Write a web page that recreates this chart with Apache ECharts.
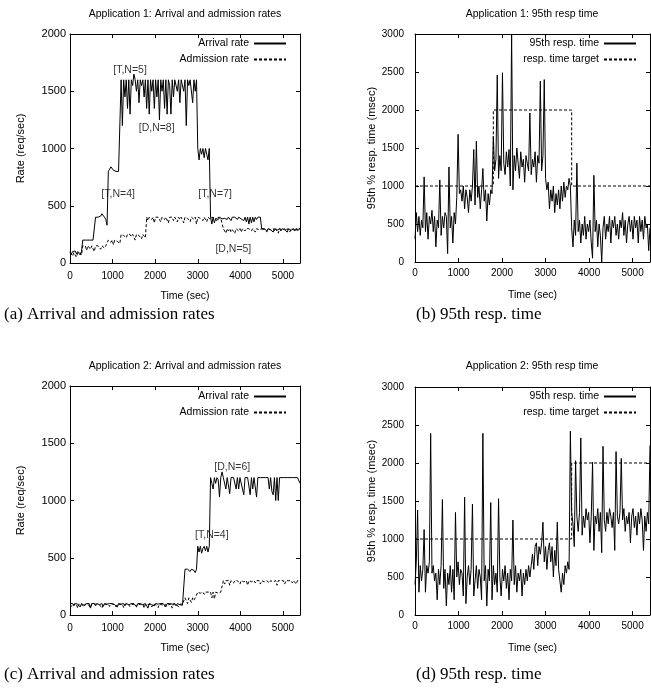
<!DOCTYPE html>
<html>
<head>
<meta charset="utf-8">
<script src="https://cdn.jsdelivr.net/npm/echarts@6/dist/echarts.min.js"></script>
<style>
  html, body { margin: 0; background: #fff; }
  #chart { width: 651px; height: 693px; }
</style>
</head>
<body>
<div id="chart"></div>
<script>
// every series is sampled once per STEP seconds, starting at t = 0
const STEP = 30;
const TIME_MAX = 5400;

// Application 1: arrival / admission rate (req/sec)
const arrivalA = [
  100, 75, 100, 90, 105, 80, 100, 95, 70, 100,
  200, 215, 200, 210, 200, 195, 200, 210, 200, 200,
  400, 390, 400, 395, 410, 430, 420, 400, 380, 330,
  800, 820, 840, 830, 810, 800, 800, 795, 800, 800,
  1600, 1200, 1600, 1450, 1600, 1350, 1600, 1300, 1600, 1550,
  1650, 1600, 1500, 1600, 1400, 1600, 1550, 1600, 1450, 1600,
  1350, 1600, 1300, 1600, 1500, 1600, 1350, 1600, 1450, 1600,
  1250, 1600, 1500, 1600, 1350, 1600, 1300, 1600, 1550, 1300,
  1600, 1450, 1600, 1600, 1500, 1600, 1400, 1600, 1600, 1500,
  1600, 1200, 1600, 1550, 1600, 1600, 1400, 1600, 1500, 1600,
  1000, 900, 1000, 950, 1000, 920, 1000, 950, 900, 1000,
  400, 340, 400, 350, 390, 400, 380, 400, 400, 385,
  400, 390, 400, 380, 400, 400, 370, 400, 390, 400,
  400, 380, 400, 400, 385, 400, 370, 400, 360, 400,
  340, 400, 350, 400, 360, 400, 380, 400, 390, 400,
  300, 290, 300, 300, 280, 300, 300, 290, 300, 270,
  300, 300, 285, 300, 300, 280, 300, 300, 290, 300,
  270, 300, 300, 285, 300, 300, 280, 300, 300, 290,
  300
];
const admissionA = [
  90, 85, 60, 90, 95, 50, 90, 85, 90, 70,
  150, 140, 150, 110, 150, 145, 120, 150, 150, 100,
  150, 140, 150, 150, 120, 150, 150, 130, 150, 150,
  200, 200, 180, 200, 160, 200, 200, 190, 200, 170,
  250, 250, 240, 250, 220, 250, 250, 250, 230, 250,
  250, 200, 250, 250, 240, 250, 210, 250, 250, 220,
  400, 370, 400, 400, 380, 400, 350, 400, 390, 400,
  400, 360, 400, 400, 380, 400, 400, 350, 400, 390,
  400, 370, 400, 400, 360, 400, 380, 400, 400, 350,
  400, 400, 390, 400, 360, 400, 400, 380, 400, 340,
  400, 400, 390, 400, 370, 400, 400, 360, 400, 400,
  380, 400, 400, 390, 400, 370, 400, 400, 390, 400,
  300, 290, 260, 300, 280, 300, 270, 290, 300, 260,
  300, 290, 280, 300, 270, 300, 300, 280, 300, 290,
  300, 300, 280, 300, 300, 270, 300, 300, 290, 300,
  300, 280, 300, 300, 270, 300, 300, 290, 300, 300,
  280, 300, 300, 260, 300, 300, 290, 300, 300, 280,
  300, 300, 270, 300, 300, 290, 300, 300, 280, 300,
  300
];

// Application 1: 95th percentile response time (msec)
const respA = [
  300, 650, 400, 600, 350, 550, 450, 1120, 400, 650,
  300, 600, 500, 680, 400, 600, 200, 550, 450, 1080,
  350, 600, 450, 650, 600, 110, 1250, 450, 600, 250,
  650, 500, 850, 1680, 900, 950, 800, 1000, 700, 950,
  850, 650, 950, 800, 1000, 1480, 750, 1590, 850, 1000,
  700, 950, 1230, 800, 950, 540, 900, 750, 950, 900,
  1650, 1200, 1350, 2460, 1100, 1400, 1200, 2490, 1300, 1150,
  1450, 1250, 1480, 1000, 3000, 950, 1400, 1200, 1500, 1300,
  1100, 1450, 1250, 1350, 1050, 1400, 1300, 1200, 1960, 1150,
  1350, 1250, 1450, 1050, 1400, 1300, 2380, 1200, 1400, 2400,
  1100, 950, 1050, 700, 950, 800, 1000, 650, 900, 750,
  950, 700, 1000, 800, 1050, 850, 1000, 950, 1100, 1000,
  450, 200, 550, 350, 1300, 400, 550, 250, 500, 350,
  600, 300, 500, 400, 550, 250, 50, 1140, 400, 550,
  200, 500, 350, 0, 450, 600, 300, 500, 400, 600,
  250, 550, 450, 600, 350, 500, 300, 550, 450, 650,
  350, 550, 250, 500, 600, 400, 550, 300, 600, 450,
  550, 250, 600, 400, 550, 300, 600, 450, 500, 150,
  450
];
const targetTimesA = [0, 1800, 1800, 3600, 3600, 5400];
const targetValsA = [1000, 1000, 2000, 2000, 1000, 1000];

// Application 2: arrival / admission rate (req/sec)
const arrivalB = [
  100, 90, 100, 80, 100, 100, 95, 100, 70, 100,
  100, 85, 100, 100, 90, 100, 60, 100, 95, 100,
  80, 100, 100, 90, 100, 100, 75, 100, 100, 95,
  100, 100, 85, 100, 100, 90, 100, 70, 100, 100,
  95, 100, 100, 80, 100, 100, 90, 100, 100, 85,
  100, 100, 75, 100, 95, 100, 100, 90, 100, 100,
  100, 60, 100, 100, 90, 100, 80, 100, 100, 95,
  100, 100, 85, 100, 100, 70, 100, 90, 100, 100,
  95, 100, 100, 80, 100, 100, 90, 100, 85, 100,
  400, 390, 400, 400, 380, 400, 400, 390, 370, 400,
  600, 550, 600, 540, 580, 600, 560, 600, 550, 600,
  1200, 1150, 1100, 1200, 1150, 1200, 1180, 1030, 1200, 1250,
  1200, 1200, 1100, 1200, 1200, 1060, 1200, 1200, 1200, 1200,
  1100, 1200, 1100, 1200, 1200, 1100, 1050, 1200, 1200, 1200,
  1200, 1050, 1200, 1100, 1200, 1200, 1030, 1200, 1200, 1200,
  1200, 1200, 1200, 1200, 1200, 1200, 1100, 1200, 1080, 1050,
  1200, 1000, 1200, 1000, 1200, 1200, 1200, 1200, 1200, 1200,
  1200, 1200, 1200, 1200, 1200, 1200, 1200, 1200, 1200, 1200,
  1150
];
const admissionB = [
  90, 95, 70, 95, 90, 95, 60, 95, 90, 95,
  95, 70, 95, 90, 95, 95, 65, 95, 90, 95,
  80, 95, 95, 90, 95, 60, 95, 95, 90, 95,
  95, 75, 95, 90, 95, 95, 70, 95, 95, 90,
  95, 95, 65, 95, 90, 95, 95, 75, 95, 95,
  90, 95, 70, 95, 95, 90, 95, 95, 60, 95,
  95, 90, 95, 95, 70, 95, 95, 90, 95, 65,
  95, 95, 90, 95, 75, 95, 95, 90, 95, 95,
  60, 95, 90, 95, 95, 70, 95, 90, 95, 95,
  150, 140, 100, 150, 150, 110, 150, 130, 150, 150,
  200, 200, 190, 200, 200, 180, 200, 200, 200, 190,
  200, 150, 200, 140, 200, 200, 190, 200, 200, 200,
  300, 270, 300, 290, 300, 260, 300, 300, 280, 300,
  290, 300, 300, 270, 300, 300, 290, 300, 300, 260,
  300, 300, 290, 300, 300, 280, 300, 300, 300, 270,
  300, 300, 290, 300, 300, 300, 280, 300, 300, 290,
  300, 300, 260, 300, 300, 300, 290, 300, 270, 300,
  300, 300, 290, 300, 280, 300, 300, 270, 300, 300,
  300
];

// Application 2: 95th percentile response time (msec)
const respB = [
  400, 700, 1380, 300, 650, 450, 600, 1125, 300, 650,
  550, 700, 2390, 550, 650, 450, 550, 200, 600, 400,
  650, 1520, 350, 600, 120, 550, 400, 650, 300, 600,
  200, 1350, 500, 700, 400, 600, 550, 250, 1550, 150,
  500, 650, 400, 600, 1460, 250, 450, 650, 350, 600,
  500, 200, 2390, 450, 650, 120, 600, 450, 1480, 200,
  650, 400, 550, 300, 1530, 500, 250, 600, 450, 650,
  350, 550, 200, 600, 450, 1250, 400, 650, 300, 550,
  450, 600, 250, 550, 400, 600, 450, 650, 500, 650,
  800, 600, 900, 950, 650, 900, 800, 950, 1220, 700,
  900, 600, 850, 950, 700, 900, 500, 850, 650, 1220,
  600, 450, 300, 550, 400, 650, 550, 700, 600, 2420,
  1350, 1200, 900, 2030, 1300, 1100, 1350, 2330, 1050, 1300,
  1150, 1400, 1250, 1350, 950, 1300, 2010, 850, 1300, 1200,
  1400, 1100, 1350, 820, 2220, 1250, 1100, 1350, 1200, 1400,
  1300, 1150, 1350, 850, 2150, 1300, 1200, 1350, 2060, 1250,
  1400, 1100, 1300, 1200, 1350, 950, 1300, 1400, 1150, 1300,
  1050, 1350, 1200, 1400, 1250, 850, 1300, 1100, 1350, 1200,
  2230
];
const targetTimesB = [0, 3600, 3600, 5400];
const targetValsB = [1000, 1000, 2000, 2000];

// in-plot labels: text, time, rate
const notesA = [
  ['[T,N=5]', 1410, 1685],
  ['[D,N=8]', 2035, 1180],
  ['[T,N=4]', 1130, 600],
  ['[T,N=7]', 3405, 600],
  ['[D,N=5]', 3835, 120]
];
const notesB = [
  ['[D,N=6]', 3810, 1290],
  ['[T,N=4]', 3330, 700]
];

const FONT = 'Liberation Sans';
const SERIF = 'Liberation Serif';

const toPairs = vals => vals.map((v, i) => [i * STEP, v]);
const zip = (xs, ys) => xs.map((x, i) => [x, ys[i]]);

const myChart = echarts.init(document.getElementById('chart'), null, { renderer: 'canvas' });

// four panels: a, b (top), c, d (bottom)
const grids = [
  { left: 70, top: 34, width: 230, height: 229 },
  { left: 415, top: 34, width: 235, height: 228 },
  { left: 70, top: 386, width: 230, height: 229 },
  { left: 415, top: 387, width: 235, height: 228 }
];
const yMax = [2000, 3000, 2000, 3000];
const yNames = ['Rate (req/sec)', '95th % resp. time (msec)', 'Rate (req/sec)', '95th % resp. time (msec)'];

const lineAxis = { lineStyle: { color: '#000', width: 1 }, onZero: false };
const tick = { inside: true, length: 4, lineStyle: { color: '#000' } };
const plain = v => String(v);

const xAxes = [];
const yAxes = [];
grids.forEach((g, i) => {
  const rt = i % 2 === 1;
  xAxes.push({
    type: 'value', gridIndex: i, min: 0, max: TIME_MAX, interval: 1000,
    axisLine: lineAxis, axisTick: tick, splitLine: { show: false },
    axisLabel: { color: '#000', fontSize: 10, margin: rt ? 6 : 8, showMaxLabel: false, fontFamily: FONT, formatter: plain },
    name: 'Time (sec)', nameLocation: 'middle', nameGap: 28,
    nameTextStyle: { color: '#000', fontSize: 10.5, fontFamily: FONT }
  });
  yAxes.push({
    type: 'value', gridIndex: i, min: 0, max: yMax[i], interval: 500,
    axisLine: lineAxis, axisTick: tick, splitLine: { show: false },
    axisLabel: { color: '#000', fontSize: rt ? 10 : 11, margin: rt ? 11 : 4, fontFamily: FONT, formatter: plain },
    name: yNames[i], nameLocation: 'middle', nameGap: rt ? 37 : 44,
    nameTextStyle: { color: '#000', fontSize: 11, fontFamily: FONT }
  });
});
// mirrored ticks on the top and right edges
grids.forEach((g, i) => {
  xAxes.push({
    type: 'value', gridIndex: i, position: 'top', min: 0, max: TIME_MAX, interval: 1000,
    axisLine: lineAxis, axisTick: tick, axisLabel: { show: false }, splitLine: { show: false }
  });
  yAxes.push({
    type: 'value', gridIndex: i, position: 'right', min: 0, max: yMax[i], interval: 500,
    axisLine: lineAxis, axisTick: tick, axisLabel: { show: false }, splitLine: { show: false }
  });
});

const solid = { color: '#000', width: 1 };
const dotted = { color: '#000', width: 1, type: [3, 2] };

function line(name, idx, data, style) {
  return {
    name: name, type: 'line', xAxisIndex: idx, yAxisIndex: idx,
    data: data, symbol: 'none', showSymbol: false,
    lineStyle: style, itemStyle: { color: '#000' }, animation: false
  };
}
function notes(idx, list) {
  return {
    type: 'scatter', xAxisIndex: idx, yAxisIndex: idx, symbolSize: 0, silent: true,
    data: list.map(n => ({ name: n[0], value: [n[1], n[2]] })),
    label: { show: true, position: 'inside', formatter: p => p.name, color: '#000', fontSize: 10.5, fontFamily: FONT },
    animation: false
  };
}

const series = [
  line('Arrival rate', 0, toPairs(arrivalA), solid),
  line('Admission rate', 0, toPairs(admissionA), dotted),
  line('95th resp. time', 1, toPairs(respA), solid),
  line('resp. time target', 1, zip(targetTimesA, targetValsA), dotted),
  line('Arrival rate', 2, toPairs(arrivalB), solid),
  line('Admission rate', 2, toPairs(admissionB), dotted),
  line('95th resp. time', 3, toPairs(respB), solid),
  line('resp. time target', 3, zip(targetTimesB, targetValsB), dotted),
  notes(0, notesA),
  notes(2, notesB)
];

function legend(names, right, top) {
  return {
    data: names, orient: 'vertical', right: right, top: top, align: 'right',
    itemWidth: 32, itemHeight: 10, itemGap: 5, padding: 0, selectedMode: false,
    itemStyle: { opacity: 0 },
    textStyle: { color: '#000', fontSize: 10.5, fontFamily: FONT }
  };
}

function plotTitle(text, left, top) {
  return { text: text, left: left, top: top, textAlign: 'center', padding: 0,
    textStyle: { color: '#000', fontSize: 10.5, fontWeight: 'normal', fontFamily: FONT } };
}
function caption(text, left, top) {
  return { text: text, left: left, top: top, padding: 0,
    textStyle: { color: '#000', fontSize: 17, fontWeight: 'normal', fontFamily: SERIF } };
}

const option = {
  animation: false,
  backgroundColor: '#fff',
  textStyle: { fontFamily: FONT },
  title: [
    plotTitle('Application 1: Arrival and admission rates', 185, 9),
    plotTitle('Application 1: 95th resp time', 532, 9),
    plotTitle('Application 2: Arrival and admission rates', 185, 361),
    plotTitle('Application 2: 95th resp time', 532, 361),
    caption('(a) Arrival and admission rates', 4, 306),
    caption('(b) 95th resp. time', 416, 306),
    caption('(c) Arrival and admission rates', 4, 666),
    caption('(d) 95th resp. time', 416, 666)
  ],
  legend: [
    legend(['Arrival rate', 'Admission rate'], 364, 38),
    legend(['95th resp. time', 'resp. time target'], 14, 38),
    legend(['Arrival rate', 'Admission rate'], 364, 391),
    legend(['95th resp. time', 'resp. time target'], 14, 391)
  ],
  grid: grids,
  xAxis: xAxes,
  yAxis: yAxes,
  series: series
};

myChart.setOption(option);
</script>
</body>
</html>
